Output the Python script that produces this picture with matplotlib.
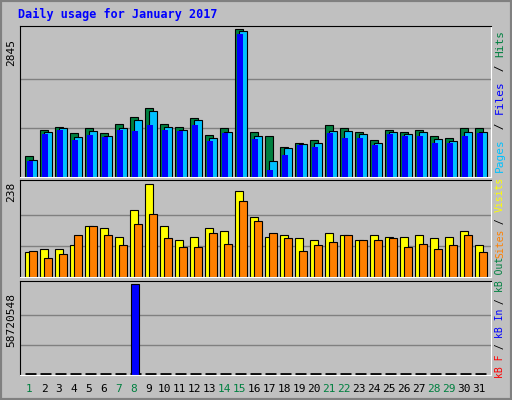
import matplotlib
matplotlib.use("Agg")
import matplotlib.pyplot as plt
from matplotlib.patches import Rectangle

days = list(range(1, 32))
weekend = [1, 7, 8, 14, 15, 21, 22, 28, 29]

hits = [399, 902, 972, 856, 953, 856, 1017, 1146, 1320, 1030, 972, 1127, 818, 934, 2845,
        876, 798, 586, 663, 721, 992, 953, 876, 721, 914, 876, 914, 798, 760, 934, 934]
files = [335, 857, 934, 779, 895, 799, 953, 1088, 1262, 972, 914, 1088, 760, 876, 2808,
         799, 316, 567, 644, 663, 895, 895, 837, 663, 876, 837, 876, 741, 702, 876, 876]
pages = [309, 837, 914, 721, 818, 779, 914, 895, 992, 914, 895, 992, 702, 856, 2750,
         741, 142, 431, 625, 586, 856, 760, 760, 625, 837, 799, 799, 663, 663, 799, 856]
visits = [65, 73, 73, 83, 132, 127, 104, 171, 238, 130, 94, 104, 127, 117, 222,
          155, 104, 109, 101, 96, 112, 109, 96, 107, 104, 104, 107, 99, 104, 119, 83]
sites = [68, 50, 58, 107, 132, 107, 83, 137, 161, 99, 76, 76, 112, 86, 194,
         143, 112, 99, 68, 81, 91, 107, 94, 94, 99, 78, 86, 73, 83, 107, 65]
kb_in = [0] * 31
kb_in[7] = 58720548

BG = "#c0c0c0"
W, H = 512, 400
fig = plt.figure(figsize=(W / 100, H / 100), dpi=100, facecolor=BG)
plt.rcParams["font.family"] = "DejaVu Sans Mono"

# 3D-ish frame
fig.patches.append(Rectangle((0, 0), 1, 1, transform=fig.transFigure, fill=False,
                             edgecolor="#808080", linewidth=3))


def panel(y_top, y_bot):
    ax = fig.add_axes([20 / W, 1 - y_bot / H, 471 / W, (y_bot - y_top) / H], facecolor=BG)
    ax.set_xlim(0, 31.4)
    ax.set_xticks([])
    ax.set_yticks([])
    for s in ["top", "left"]:
        ax.spines[s].set_color("black")
    for s in ["bottom", "right"]:
        ax.spines[s].set_color("white")
    return ax


def grid(ax, top):
    for f in (1 / 3, 2 / 3):
        ax.axhline(top * f, color="#808080", linewidth=1, zorder=0)


bar = dict(edgecolor="black", linewidth=0.8, align="edge", zorder=2)

# hits / files / pages
ax1 = panel(26, 177)
x0 = [d - 1 + 0.33 for d in days]
ax1.bar(x0, hits, width=0.53, color="#008040", **bar)
ax1.bar([x + 0.13 for x in x0], pages, width=0.4, color="#0000ff", edgecolor="none",
        align="edge", zorder=3)
ax1.bar([x + 0.27 for x in x0], files, width=0.53, color="#00c0ff", **bar)
ax1.set_ylim(0, 2845 * 1.022)
grid(ax1, 2845)
fig.text(6 / W, 1 - 52 / H, "2845", rotation=90, fontsize=8, ha="left", va="center")

# visits / sites
ax2 = panel(180, 277)
ax2.bar(x0, visits, width=0.53, color="#ffff00", **bar)
ax2.bar([x + 0.27 for x in x0], sites, width=0.53, color="#ff8000", **bar)
ax2.set_ylim(0, 238 * 1.047)
grid(ax2, 238)
fig.text(6 / W, 1 - 192 / H, "238", rotation=90, fontsize=8, ha="left", va="center")

# kB in
ax3 = panel(281, 375)
ax3.bar([x + 0.1 for x in x0], kb_in, width=0.5, color="#0000ff", **bar)
ax3.set_ylim(0, 58720548 * 1.036)
for x in x0:
    ax3.plot([x, x + 0.75], [58720548 * 0.012] * 2, color="black", linewidth=2,
             solid_capstyle="butt", zorder=1)
grid(ax3, 58720548)
fig.text(6 / W, 1 - 320 / H, "58720548", rotation=90, fontsize=8, ha="left", va="center")

# day labels
for d in days:
    xp = 20 + (d - 1 + 0.6) * 15
    fig.text(xp / W, 1 - 389 / H, str(d), fontsize=8, ha="center", va="center",
             color="#008040" if d in weekend else "black")

fig.text(18 / W, 1 - 14 / H, "Daily usage for January 2017", fontsize=8.5,
         fontweight="bold", color="#0000ff", ha="left", va="center")


def side_label(parts, y_bottom, ch, size):
    # rotated multi-coloured label, drawn bottom to top
    y = y_bottom
    for t, c in parts:
        fig.text(500 / W, 1 - y / H, t, rotation=90, fontsize=size, color=c,
                 ha="center", va="bottom")
        y -= len(t) * ch


side_label([("Pages", "#00c0ff"), (" / ", "black"), ("Files", "#0000ff"),
            (" / ", "black"), ("Hits", "#008040")], 172, 7.2, 8)
side_label([("Sites", "#ff8000"), (" / ", "black"), ("Visits", "#ffff00")], 258, 5.7, 7)
side_label([("kB F", "#ff0000"), (" / ", "black"), ("kB In", "#0000ff"),
            (" / ", "black"), ("kB Out", "#008040")], 378, 5.7, 7)

fig.savefig("out.png", dpi=100, facecolor=BG)
